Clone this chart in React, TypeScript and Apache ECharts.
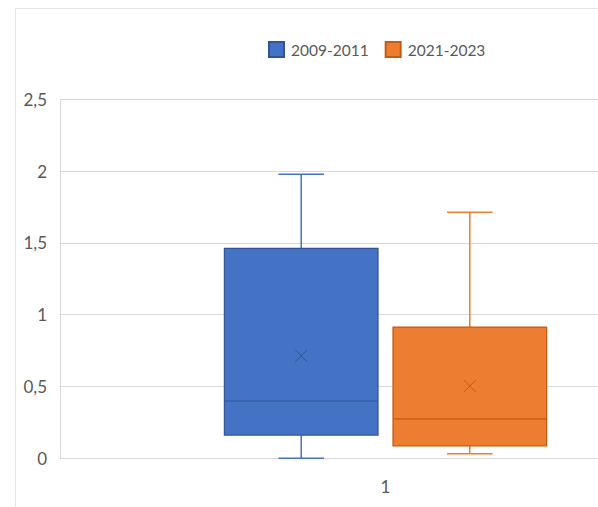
import React, { useEffect, useRef } from "react";
import * as echarts from "echarts";

const categories = ["1"];
const seriesNames = ["2009-2011", "2021-2023"];
const minVals = [0, 0.032];
const q1Vals = [0.162, 0.086];
const medianVals = [0.399, 0.274];
const q3Vals = [1.462, 0.914];
const maxVals = [1.978, 1.713];
const meanVals = [0.714, 0.503];
const yTicks = [0, 0.5, 1, 1.5, 2, 2.5];

const fillColors = ["#4472C4", "#ED7D31"];
const edgeColors = ["#2F5597", "#C55A11"];
const FONT = "Lato, 'Noto Sans', sans-serif";

export default function App() {
  const ref = useRef<HTMLDivElement>(null);
  useEffect(() => {
    if (!ref.current) return;
    const chart = echarts.init(ref.current, null, { renderer: "svg" });
    const renderItem = (params: any, api: any) => {
      const idx = params.seriesIndex;
      const xv = api.value(0);
      const center = api.coord([xv, 0])[0];
      const band = api.size([1, 0])[0];
      const cx = center + (idx === 0 ? -1 : 1) * 0.1295 * band;
      const w = 0.236 * band;
      const cap = 0.07 * band;
      const y = (v: number) => api.coord([xv, v])[1];
      const yMin = y(api.value(1));
      const yQ1 = y(api.value(2));
      const yMed = y(api.value(3));
      const yQ3 = y(api.value(4));
      const yMax = y(api.value(5));
      const yMean = y(api.value(6));
      const fill = fillColors[idx];
      const edge = edgeColors[idx];
      const wStyle = { stroke: fill, lineWidth: 1.5 };
      const m = 6;
      return {
        type: "group",
        children: [
          { type: "line", shape: { x1: cx, y1: yQ3, x2: cx, y2: yMax }, style: wStyle },
          { type: "line", shape: { x1: cx, y1: yQ1, x2: cx, y2: yMin }, style: wStyle },
          { type: "line", shape: { x1: cx - cap / 2, y1: yMax, x2: cx + cap / 2, y2: yMax }, style: wStyle },
          { type: "line", shape: { x1: cx - cap / 2, y1: yMin, x2: cx + cap / 2, y2: yMin }, style: wStyle },
          {
            type: "rect",
            shape: { x: cx - w / 2, y: yQ3, width: w, height: yQ1 - yQ3 },
            style: { fill, stroke: edge, lineWidth: 1.2 },
          },
          { type: "line", shape: { x1: cx - w / 2, y1: yMed, x2: cx + w / 2, y2: yMed }, style: { stroke: edge, lineWidth: 1.2 } },
          { type: "line", shape: { x1: cx - m, y1: yMean - m, x2: cx + m, y2: yMean + m }, style: { stroke: edge, lineWidth: 1 } },
          { type: "line", shape: { x1: cx - m, y1: yMean + m, x2: cx + m, y2: yMean - m }, style: { stroke: edge, lineWidth: 1 } },
        ],
      };
    };
    chart.setOption({
      animation: false,
      backgroundColor: "#ffffff",
      graphic: [
        {
          type: "rect",
          shape: { x: 15.5, y: 8.5, width: 800, height: 700 },
          style: { fill: "none", stroke: "#e4e4e4", lineWidth: 1 },
          silent: true,
        },
      ],
      legend: {
        left: 268,
        top: 41,
        padding: 0,
        icon: "rect",
        itemWidth: 15,
        itemHeight: 15,
        itemGap: 16,
        data: seriesNames,
        textStyle: { color: "#595959", fontSize: 15.5, fontFamily: FONT, padding: [0, 0, 0, 2] },
      },
      grid: { left: 60, right: 0, top: 99.3, bottom: 48.7, containLabel: false },
      xAxis: {
        type: "category",
        data: categories,
        axisTick: { show: false },
        axisLine: { show: true, lineStyle: { color: "#d9d9d9", width: 1 } },
        axisLabel: { color: "#595959", fontSize: 17, fontFamily: FONT, margin: 20 },
      },
      yAxis: {
        type: "value",
        min: yTicks[0],
        max: yTicks[yTicks.length - 1],
        interval: 0.5,
        axisLine: { show: true, lineStyle: { color: "#d9d9d9", width: 1 } },
        axisTick: { show: false },
        splitLine: { lineStyle: { color: "#d9d9d9", width: 1.2 } },
        axisLabel: {
          color: "#595959",
          fontSize: 17,
          fontFamily: FONT,
          margin: 13,
          formatter: (v: number) => String(v).replace(".", ","),
        },
      },
      series: seriesNames.map((name, i) => ({
        name,
        type: "custom",
        renderItem,
        itemStyle: { color: fillColors[i], borderColor: edgeColors[i], borderWidth: 1 },
        encode: { x: 0, y: [1, 2, 3, 4, 5, 6] },
        data: [[0, minVals[i], q1Vals[i], medianVals[i], q3Vals[i], maxVals[i], meanVals[i]]],
      })),
    });
    return () => chart.dispose();
  }, []);
  return (
    <div style={{ position: "fixed", left: 0, top: 0, width: 598, height: 507, overflow: "hidden" }}>
      <div ref={ref} style={{ position: "absolute", left: 0, top: 0, width: 711, height: 507 }} />
    </div>
  );
}
